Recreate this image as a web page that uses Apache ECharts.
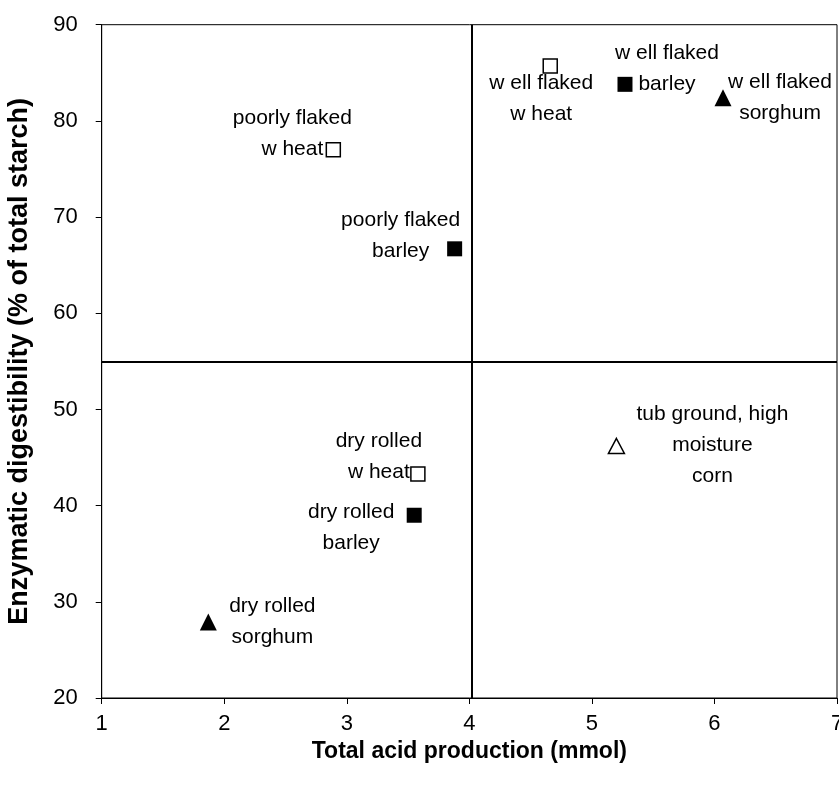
<!DOCTYPE html>
<html>
<head>
<meta charset="utf-8">
<script src="https://cdn.jsdelivr.net/npm/echarts@6/dist/echarts.min.js"></script>
<style>html,body{margin:0;padding:0;background:#fff;}#c{width:839px;height:791px;}</style>
</head>
<body>
<div id="c"></div>
<script>
// ---- data ----
const wheatLabels = ['w ell flaked\nw heat', 'poorly flaked\nw heat', 'dry rolled\nw heat'];
const wheatAcid = [4.66, 2.89, 3.58];
const wheatDigest = [85.7, 77.0, 43.3];

const barleyLabels = ['w ell flaked\nbarley', 'poorly flaked\nbarley', 'dry rolled\nbarley'];
const barleyAcid = [5.27, 3.88, 3.55];
const barleyDigest = [83.8, 66.7, 39.0];

const sorghumLabels = ['w ell flaked\nsorghum', 'dry rolled\nsorghum'];
const sorghumAcid = [6.07, 1.87];
const sorghumDigest = [82.4, 27.9];

const cornLabels = ['tub ground, high\nmoisture\ncorn'];
const cornAcid = [5.20];
const cornDigest = [46.2];

const refAcid = 4.02;
const refDigest = 55.0;

const xTicks = [1, 2, 3, 4, 5, 6, 7];
const yTicks = [20, 30, 40, 50, 60, 70, 80, 90];

// ---- label placement (pixel offsets from marker centre) ----
const wheatOffsets = [[-9, 33], [-41, -16], [-39, -17]];
const barleyOffsets = [[42, -16], [-54, -13], [-63, 12]];
const sorghumOffsets = [[57, 0], [64, 0]];
const cornOffsets = [[96, -1]];

const FONT = '"Liberation Sans", Arial, sans-serif';

function build(xs, ys, labels, offsets) {
  return xs.map((x, i) => ({
    value: [x, ys[i]],
    label: { offset: offsets[i], formatter: labels[i] }
  }));
}

const labelBase = {
  show: true, position: 'inside', color: '#000', fontFamily: FONT,
  fontSize: 21, lineHeight: 31, align: 'center', verticalAlign: 'middle'
};

const chart = echarts.init(document.getElementById('c'), null, { renderer: 'canvas' });
chart.setOption({
  animation: false,
  backgroundColor: '#fff',
  grid: { left: 101.7, right: 2, top: 24.7, bottom: 93, show: true, borderColor: '#000', borderWidth: 1, backgroundColor: 'transparent', containLabel: false, outerBoundsMode: 'none' },
  xAxis: {
    type: 'value', min: xTicks[0], max: xTicks[xTicks.length - 1], interval: 1,
    name: 'Total acid production (mmol)', nameLocation: 'middle', nameGap: 41,
    nameTextStyle: { fontFamily: FONT, fontSize: 23, fontWeight: 'bold', color: '#000' },
    axisLine: { show: true, lineStyle: { color: '#000', width: 1 } },
    axisTick: { show: true, length: 6, inside: false, lineStyle: { color: '#000' } },
    axisLabel: { fontFamily: FONT, fontSize: 22, color: '#000', margin: 15 },
    splitLine: { show: false }
  },
  yAxis: {
    type: 'value', min: yTicks[0], max: yTicks[yTicks.length - 1], interval: 10,
    name: 'Enzymatic digestibility (% of total starch)', nameLocation: 'middle', nameGap: 69,
    nameTextStyle: { fontFamily: FONT, fontSize: 27, fontWeight: 'bold', color: '#000' },
    axisLine: { show: true, lineStyle: { color: '#000', width: 1 } },
    axisTick: { show: true, length: 6, inside: false, lineStyle: { color: '#000' } },
    axisLabel: { fontFamily: FONT, fontSize: 22, color: '#000', margin: 24 },
    splitLine: { show: false }
  },
  series: [
    {
      type: 'scatter', name: 'reference', data: [],
      markLine: {
        silent: true, symbol: 'none', label: { show: false },
        lineStyle: { color: '#000', width: 2, type: 'solid', opacity: 1 },
        data: [{ xAxis: refAcid }, { yAxis: refDigest }]
      }
    },
    {
      type: 'scatter', name: 'wheat', symbol: 'rect', symbolSize: 14,
      itemStyle: { color: '#fff', borderColor: '#000', borderWidth: 1.5, opacity: 1 },
      label: labelBase,
      data: build(wheatAcid, wheatDigest, wheatLabels, wheatOffsets)
    },
    {
      type: 'scatter', name: 'barley', symbol: 'rect', symbolSize: 15,
      itemStyle: { color: '#000', borderColor: '#000', borderWidth: 0, opacity: 1 },
      label: labelBase,
      data: build(barleyAcid, barleyDigest, barleyLabels, barleyOffsets)
    },
    {
      type: 'scatter', name: 'sorghum', symbol: 'triangle', symbolSize: [17, 17],
      itemStyle: { color: '#000', borderColor: '#000', borderWidth: 0, opacity: 1 },
      label: labelBase,
      data: build(sorghumAcid, sorghumDigest, sorghumLabels, sorghumOffsets)
    },
    {
      type: 'scatter', name: 'corn', symbol: 'triangle', symbolSize: [16, 15],
      itemStyle: { color: '#fff', borderColor: '#000', borderWidth: 1.5, opacity: 1 },
      label: labelBase,
      data: build(cornAcid, cornDigest, cornLabels, cornOffsets)
    }
  ]
});
</script>
</body>
</html>
